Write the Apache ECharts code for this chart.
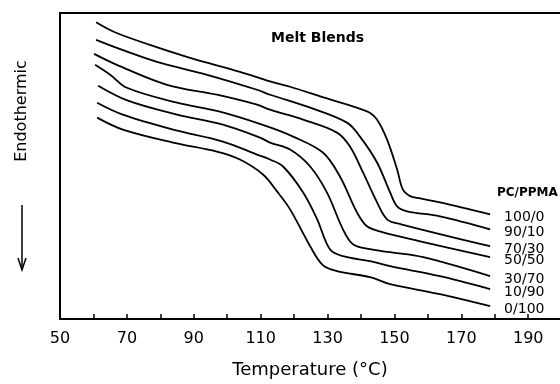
<!DOCTYPE html>
<html>
<head>
<meta charset="utf-8">
<script src="https://cdn.jsdelivr.net/npm/echarts@6/dist/echarts.min.js"></script>
<style>html,body{margin:0;padding:0;background:#fff;}#c{width:560px;height:384px;}</style>
</head>
<body>
<div id="c"></div>
<script>
// Temperature (°C) and relative heat-flow (arbitrary units) for each blend
const names = ['100/0', '90/10', '70/30', '50/50', '30/70', '10/90', '0/100'];
const t100_0 = [60.8, 66.4, 76.9, 88.9, 103.8, 112.8, 118.8, 127.8, 141.8, 144.8, 147.8, 150.8, 152.5, 154.7, 157.7, 163.6, 178.6];
const v100_0 = [297.7, 287.7, 275, 262, 248, 238.3, 233, 223.3, 208.3, 200, 180, 150, 130, 123.3, 121, 117, 105];
const t90_10 = [60.8, 67.0, 79.0, 94.0, 108.9, 112.8, 124.8, 135.8, 139.7, 144.8, 148.7, 150.8, 153.8, 163.6, 178.6];
const v90_10 = [280, 272, 258, 245, 230, 225, 212, 197, 183, 157, 127, 113, 108, 103, 90];
const t70_30 = [60.2, 67.0, 82.0, 96.9, 108.9, 112.8, 122.7, 132.8, 136.7, 140.6, 144.8, 147.8, 152.0, 178.6];
const v70_30 = [266, 255, 235, 225, 215, 210, 200, 187, 173, 147, 117, 100, 95, 73];
const t50_50 = [60.5, 65.0, 70.0, 85.0, 97.8, 111.3, 119.7, 128.6, 133.7, 138.8, 141.8, 146.6, 157.7, 178.6];
const v50_50 = [255, 245, 232, 217, 208, 194, 183, 167, 143, 107, 93, 87, 78, 62];
const t30_70 = [61.4, 70.3, 85.0, 98.7, 109.8, 112.8, 118.8, 124.8, 129.8, 134.6, 137.6, 142.7, 148.7, 158.6, 178.6];
const v30_70 = [234, 219, 205, 195, 182, 177, 170, 153, 127, 90, 75, 70, 67, 62, 43];
const t10_90 = [61.1, 68.8, 83.8, 98.7, 108.9, 112.8, 116.7, 122.7, 126.9, 130.7, 134.6, 142.7, 148.7, 163.6, 178.6];
const v10_90 = [217, 205, 190, 178, 165, 160, 153, 127, 100, 70, 63, 58, 53, 43, 30];
const t0_100 = [61.1, 68.8, 83.8, 96.9, 103.8, 110.7, 114.9, 118.8, 124.8, 128.6, 132.8, 142.7, 148.7, 163.6, 178.6];
const v0_100 = [202, 190, 177, 168, 160, 145, 128, 110, 73, 54, 48, 42, 35, 25, 13];
const xTickLabels = [50, 70, 90, 110, 130, 150, 170, 190];

const temps = [t100_0, t90_10, t70_30, t50_50, t30_70, t10_90, t0_100];
const vals = [v100_0, v90_10, v70_30, v50_50, v30_70, v10_90, v0_100];

const FONT = 'DejaVu Sans';
const chart = echarts.init(document.getElementById('c'));
const series = names.map((n, i) => ({
  name: n,
  type: 'line',
  data: temps[i].map((t, j) => [t, vals[i][j]]),
  showSymbol: false,
  smooth: 0.35,
  lineStyle: { color: '#000', width: 1.8 },
  endLabel: {
    show: true, formatter: n, color: '#000', fontFamily: FONT, fontSize: 14,
    offset: [6, 3]
  },
  labelLayout: { hideOverlap: false },
  animation: false
}));

chart.setOption({
  animation: false,
  title: {
    text: 'Melt Blends', left: 266, top: 26,
    textStyle: { fontFamily: FONT, fontSize: 14, fontWeight: 'bold', color: '#000' }
  },
  grid: { left: 60, right: 0, top: 13, bottom: 64 },
  xAxis: [{
    type: 'value', min: 50, max: 199.5, interval: 10,
    name: 'Temperature (°C)', nameLocation: 'middle', nameGap: 42,
    nameTextStyle: { fontFamily: FONT, fontSize: 18, color: '#000' },
    axisLine: { lineStyle: { color: '#000', width: 2 } },
    axisTick: { inside: true, length: 5, lineStyle: { color: '#000', width: 1.5 } },
    splitLine: { show: false },
    axisLabel: {
      color: '#000', fontFamily: FONT, fontSize: 16, margin: 12,
      showMaxLabel: false,
      formatter: v => xTickLabels.indexOf(Math.round(v)) >= 0 && Math.abs(v - Math.round(v)) < 1e-6 ? String(Math.round(v)) : ''
    }
  }, {
    type: 'value', min: 50, max: 199.5, position: 'top',
    axisLine: { show: true, onZero: false, lineStyle: { color: '#000', width: 2 } },
    axisTick: { show: false }, axisLabel: { show: false }, splitLine: { show: false }
  }],
  yAxis: {
    type: 'value', min: 0, max: 307,
    axisLine: { show: true, lineStyle: { color: '#000', width: 2 } },
    axisTick: { show: false }, axisLabel: { show: false }, splitLine: { show: false }
  },
  graphic: [
    {
      type: 'text', x: 22, y: 111, rotation: Math.PI / 2,
      style: { text: 'Endothermic', fontFamily: FONT, fontSize: 16, fill: '#000', align: 'center', verticalAlign: 'middle' }
    },
    { type: 'line', shape: { x1: 22, y1: 205, x2: 22, y2: 268 }, style: { stroke: '#000', lineWidth: 1.5 } },
    { type: 'polyline', shape: { points: [[18, 258], [22, 270], [26, 258]] }, style: { stroke: '#000', lineWidth: 1.5, fill: null } },
    {
      type: 'text', x: 497, y: 193,
      style: { text: 'PC/PPMA', fontFamily: FONT, fontSize: 12, fontWeight: 'bold', fill: '#000', verticalAlign: 'middle' }
    }
  ],
  series: series
});
</script>
</body>
</html>
